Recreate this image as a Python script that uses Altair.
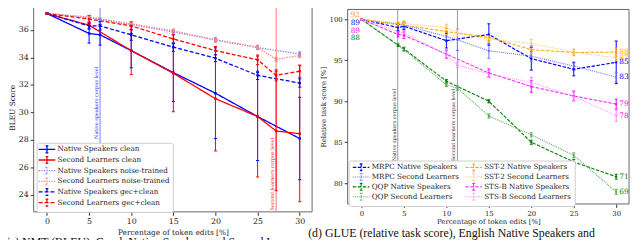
import altair as alt
import pandas as pd

W, H = 632, 232
FONT = "DejaVu Serif"

# ---------------- panel (a): NMT (BLEU) ----------------
left_series = ["Native Speakers clean", "Second Learners clean",
               "Native Speakers noise-trained", "Second Learners noise-trained",
               "Native Speakers gec+clean", "Second Learners gec+clean"]
left_colors = ["#0000ff", "#ff0000", "#7f7fff", "#ff7f7f", "#0000ff", "#ff0000"]
left_dashes = [[1, 0], [1, 0], [1.3, 1.3], [1.3, 1.3], [4, 2], [4, 2]]
left_widths = [1.3, 1.3, 1.0, 1.0, 1.2, 1.2]

x_native_a = [0, 5, 6.3, 10, 15, 20, 25, 30]
x_second_a = [0, 5, 10, 15, 20, 25, 27.2, 30]

nat_clean = [37.2, 35.75, 35.65, 34.5, 32.9, 31.4, 29.7, 28.1]
nat_clean_err = [0.05, 0.7, 0.75, 1.25, 2.1, 3.3, 3.2, 3.0]
sec_clean = [37.2, 36.35, 34.5, 32.85, 31.0, 29.7, 28.65, 28.45]
sec_clean_err = [0.05, 0.3, 1.75, 2.8, 3.8, 4.4, 4.35, 4.95]
nat_noise = [37.2, 36.9, 36.75, 36.4, 35.85, 35.3, 34.72, 34.26]
nat_noise_err = [0.05, 0.12, 0.12, 0.12, 0.15, 0.15, 0.15, 0.15]
sec_noise = [37.2, 36.95, 36.45, 35.95, 35.26, 34.74, 33.86, 34.14]
sec_noise_err = [0.05, 0.12, 0.12, 0.12, 0.15, 0.15, 0.15, 0.15]
nat_gec = [37.2, 36.3, 36.3, 35.65, 34.75, 33.95, 32.7, 32.14]
nat_gec_err = [0.05, 0.2, 0.3, 0.4, 0.3, 0.25, 0.3, 0.3]
sec_gec = [37.2, 36.8, 36.3, 35.35, 34.5, 33.83, 32.7, 33.0]
sec_gec_err = [0.05, 0.25, 0.3, 0.3, 0.3, 0.35, 0.4, 0.45]

left_values = [nat_clean, sec_clean, nat_noise, sec_noise, nat_gec, sec_gec]
left_errors = [nat_clean_err, sec_clean_err, nat_noise_err, sec_noise_err, nat_gec_err, sec_gec_err]
left_xs = [x_native_a, x_second_a, x_native_a, x_second_a, x_native_a, x_second_a]

corpus_a_x = [6.3, 27.2]
corpus_a_mid = [30.7, 25.5]
corpus_a_text = ["Native speakers corpus level", "Second learners corpus level"]
corpus_a_color = ["#8080ff", "#ff7070"]
corpus_a_textcolor = ["#3030ff", "#ff2020"]

# ---------------- panel (d): GLUE ----------------
right_series = ["MRPC Native Speakers", "MRPC Second Learners",
                "QQP Native Speakers", "QQP Second Learners",
                "SST-2 Native Speakers", "SST-2 Second Learners",
                "STS-B Native Speakers", "STS-B Second Learners"]
right_colors = ["#0000ff", "#7070ff", "#008000", "#55aa55",
                "#ffa500", "#ffc45a", "#ff00ff", "#ff80ff"]
right_dashes = [[3.5, 1.5], [1, 1], [3.5, 1.5], [1, 1],
                [3.5, 1.5], [1, 1], [3.5, 1.5], [1, 1]]
right_widths = [1.2, 0.9, 1.2, 0.9, 1.2, 0.9, 1.2, 0.9]

x_native_d = [0, 4.3, 5, 10, 15, 20, 25, 30]
x_second_d = [0, 5, 10, 11.3, 15, 20, 25, 30]

mrpc_nat = [100, 99.0, 99.15, 97.4, 98.15, 95.2, 93.9, 94.75]
mrpc_nat_err = [0.05, 0.4, 0.4, 0.9, 1.3, 1.4, 0.8, 2.6]
mrpc_sec = [100, 99.3, 97.9, 97.5, 96.15, 95.5, 94.3, 92.95]
mrpc_sec_err = [0.05, 0.4, 0.6, 1.3, 0.9, 0.6, 0.5, 0.6]
qqp_nat = [100, 96.85, 96.4, 92.45, 90.0, 85.0, 82.6, 80.8]
qqp_nat_err = [0.05, 0.15, 0.2, 0.2, 0.2, 0.25, 0.3, 0.3]
qqp_sec = [100, 96.3, 92.0, 91.6, 88.2, 85.9, 83.4, 78.95]
qqp_sec_err = [0.05, 0.2, 0.2, 0.25, 0.25, 0.25, 0.3, 0.3]
sst_nat = [100, 99.35, 99.3, 98.5, 97.8, 96.3, 95.95, 96.0]
sst_nat_err = [0.05, 0.3, 0.3, 0.4, 0.4, 0.5, 0.4, 0.5]
sst_sec = [100, 99.5, 99.0, 98.35, 97.6, 97.05, 96.0, 95.3]
sst_sec_err = [0.05, 0.3, 0.4, 0.4, 0.4, 0.5, 0.3, 0.4]
stsb_nat = [100, 98.15, 98.05, 95.75, 93.45, 91.8, 90.65, 89.65]
stsb_nat_err = [0.05, 0.3, 0.4, 0.5, 0.5, 0.7, 0.6, 0.6]
stsb_sec = [100, 98.3, 95.7, 94.4, 93.35, 92.3, 90.6, 88.25]
stsb_sec_err = [0.05, 0.3, 0.4, 0.3, 0.4, 0.6, 0.5, 0.7]

right_values = [mrpc_nat, mrpc_sec, qqp_nat, qqp_sec, sst_nat, sst_sec, stsb_nat, stsb_sec]
right_errors = [mrpc_nat_err, mrpc_sec_err, qqp_nat_err, qqp_sec_err,
                sst_nat_err, sst_sec_err, stsb_nat_err, stsb_sec_err]
right_xs = [x_native_d, x_second_d, x_native_d, x_second_d,
            x_native_d, x_second_d, x_native_d, x_second_d]

# absolute task scores written at the start and the end of the curves
start_labels = ["92", "89", "89", "88"]
start_label_series = ["SST-2 Native Speakers", "MRPC Native Speakers",
                      "STS-B Native Speakers", "QQP Native Speakers"]
start_label_y = [100.5, 99.55, 98.62, 97.7]
end_labels = ["88", "87", "85", "83", "79", "78", "71", "69"]
end_label_series = ["SST-2 Native Speakers", "SST-2 Second Learners",
                    "MRPC Native Speakers", "MRPC Second Learners",
                    "STS-B Native Speakers", "STS-B Second Learners",
                    "QQP Native Speakers", "QQP Second Learners"]

corpus_d_x = [4.27, 11.3]
corpus_d_mid = [87.1, 87.1]
corpus_d_text = ["Native speakers corpus level", "Second learners corpus level"]

caption_a = "(a) NMT (BLEU), Czech Native Speakers and Second Learners"
caption_d = "(d) GLUE (relative task score), English Native Speakers and"


def long_frame(names, xs, ys, errs):
    rows = []
    for n, xx, yy, ee in zip(names, xs, ys, errs):
        for a, b, e in zip(xx, yy, ee):
            rows.append({"series": n, "x": a, "y": b, "ymin": b - e, "ymax": b + e})
    return pd.DataFrame(rows)


df_a = long_frame(left_series, left_xs, left_values, left_errors)
df_d = long_frame(right_series, right_xs, right_values, right_errors)
caps_a = pd.concat([df_a.assign(yc=df_a["ymin"]), df_a.assign(yc=df_a["ymax"])])
caps_d = pd.concat([df_d.assign(yc=df_d["ymin"]), df_d.assign(yc=df_d["ymax"])])

SYMBOL = "M-3.36,0H3.36M0,-1.4V1.4M-0.56,-1.4H0.56M-0.56,1.4H0.56"

# ---------- panel (a) geometry ----------
A_LEFT, A_RIGHT, A_TOP, A_BOTTOM = 26, 308, -7, 205
xs_a = alt.Scale(domain=[-1.58, 31.47], range=[A_LEFT, A_RIGHT], nice=False, zero=False)
ys_a = alt.Scale(domain=[22.76, 38.0], range=[A_BOTTOM, A_TOP], nice=False, zero=False)
ax_xa = alt.Axis(orient="bottom", offset=A_BOTTOM - H, values=[0, 5, 10, 15, 20, 25, 30],
                 title="Percentage of token edits [%]", grid=False, domain=False,
                 tickSize=3.5, tickColor="#333", labelFont=FONT, labelFontSize=8,
                 labelColor="#222", titleFont=FONT, titleFontSize=7.5,
                 titleFontWeight="normal", titleColor="#222", titlePadding=3, labelPadding=2)
ax_ya = alt.Axis(orient="left", offset=-A_LEFT, values=[24, 26, 28, 30, 32, 34, 36],
                 title="BLEU Score", grid=False, domain=False, tickSize=3.5,
                 tickColor="#333", labelFont=FONT, labelFontSize=8, labelColor="#222",
                 titleFont=FONT, titleFontSize=7.5, titleFontWeight="normal",
                 titleColor="#222", titlePadding=2, labelPadding=2)
col_a = alt.Scale(domain=left_series, range=left_colors)
dash_a = alt.Scale(domain=left_series, range=left_dashes)
wid_a = alt.Scale(domain=left_series, range=left_widths)
leg_a = alt.Legend(title=None, orient="none", legendX=29, legendY=135,
                   symbolType=SYMBOL, symbolSize=25, symbolStrokeWidth=1.1,
                   labelFont=FONT, labelFontSize=7.3, labelColor="#222", rowPadding=-2.2,
                   padding=3, fillColor="white", strokeColor="#cccccc",
                   cornerRadius=2, symbolOffset=3.8, labelOffset=7, labelLimit=0)


def XA(f):
    return alt.X(f + ":Q", scale=xs_a, axis=ax_xa)


def YA(f):
    return alt.Y(f + ":Q", scale=ys_a, axis=ax_ya)


def CA():
    return alt.Color("series:N", scale=col_a, legend=leg_a)


base_a = alt.Chart(df_a)
lines_a = base_a.mark_line(strokeCap="butt").encode(
    x=XA("x"), y=YA("y"), color=CA(),
    strokeDash=alt.StrokeDash("series:N", scale=dash_a, legend=leg_a),
    strokeWidth=alt.StrokeWidth("series:N", scale=wid_a, legend=None),
    detail="series:N")
bars_a = base_a.mark_rule(strokeWidth=1).encode(
    x=XA("x"), y=YA("ymin"), y2="ymax", color=CA())
capm_a = alt.Chart(caps_a).mark_point(shape="M-1,0H1", size=10, filled=False,
                                     strokeWidth=1, opacity=1).encode(
    x=XA("x"), y=YA("yc"), color=CA())
pts_a = base_a.mark_point(shape="square", filled=True, size=6, opacity=1).encode(
    x=XA("x"), y=YA("y"), color=CA())

frame_a_df = pd.DataFrame({"x0": [-1.58], "x1": [31.47], "y0": [22.76], "y1": [38.0]})
frame_a = alt.Chart(frame_a_df).mark_rect(fillOpacity=0, stroke="#555", strokeWidth=0.9).encode(
    x=XA("x0"), x2="x1", y=YA("y0"), y2="y1")

corp_layers_a = []
for cx, cm, ct, cc, tc in zip(corpus_a_x, corpus_a_mid, corpus_a_text, corpus_a_color, corpus_a_textcolor):
    d = pd.DataFrame({"x": [cx], "y0": [22.76], "y1": [38.0], "ym": [cm], "t": [ct]})
    corp_layers_a.append(alt.Chart(d).mark_rule(color=cc, strokeWidth=1).encode(
        x=XA("x"), y=YA("y0"), y2="y1"))
    corp_layers_a.append(alt.Chart(d).mark_text(angle=270, baseline="bottom", align="center",
                                                dy=-1, font=FONT, fontSize=5, color=tc).encode(
        x=XA("x"), y=YA("ym"), text="t:N"))

panel_a = alt.layer(frame_a, *corp_layers_a, lines_a, bars_a, capm_a, pts_a)

# ---------- panel (d) geometry ----------
D_LEFT, D_RIGHT, D_TOP, D_BOTTOM = 344, 629, 0, 197
xs_d = alt.Scale(domain=[-1.63, 31.51], range=[D_LEFT, D_RIGHT], nice=False, zero=False)
ys_d = alt.Scale(domain=[77.47, 101.2], range=[D_BOTTOM, D_TOP], nice=False, zero=False)
ax_xd = alt.Axis(orient="bottom", offset=D_BOTTOM - H, values=[0, 5, 10, 15, 20, 25, 30],
                 title="Percentage of token edits [%]", grid=False, domain=False,
                 tickSize=3.5, tickColor="#333", labelFont=FONT, labelFontSize=7,
                 labelColor="#222", titleFont=FONT, titleFontSize=7,
                 titleFontWeight="normal", titleColor="#222", titlePadding=1.5, labelPadding=2)
ax_yd = alt.Axis(orient="left", offset=-D_LEFT, values=[80, 85, 90, 95, 100],
                 title="Relative task score [%]", grid=False, domain=False, tickSize=3.5,
                 tickColor="#333", labelFont=FONT, labelFontSize=7, labelColor="#222",
                 titleFont=FONT, titleFontSize=7, titleFontWeight="normal",
                 titleColor="#222", titlePadding=3, labelPadding=2)
col_d = alt.Scale(domain=right_series, range=right_colors)
dash_d = alt.Scale(domain=right_series, range=right_dashes)
wid_d = alt.Scale(domain=right_series, range=right_widths)
leg_d = alt.Legend(title=None, orient="none", legendX=345, legendY=153, columns=2,
                   symbolType=SYMBOL, symbolSize=25, symbolStrokeWidth=1.1,
                   labelFont=FONT, labelFontSize=7.3, labelColor="#222", rowPadding=-3.8,
                   columnPadding=4, padding=3, fillColor="white", strokeColor="#cccccc",
                   cornerRadius=2, symbolOffset=6, labelOffset=7, labelLimit=0)


def XD(f):
    return alt.X(f + ":Q", scale=xs_d, axis=ax_xd)


def YD(f):
    return alt.Y(f + ":Q", scale=ys_d, axis=ax_yd)


def CD():
    return alt.Color("series:N", scale=col_d, legend=leg_d)


base_d = alt.Chart(df_d)
lines_d = base_d.mark_line(strokeCap="butt").encode(
    x=XD("x"), y=YD("y"), color=CD(),
    strokeDash=alt.StrokeDash("series:N", scale=dash_d, legend=leg_d),
    strokeWidth=alt.StrokeWidth("series:N", scale=wid_d, legend=None),
    detail="series:N")
bars_d = base_d.mark_rule(strokeWidth=1).encode(
    x=XD("x"), y=YD("ymin"), y2="ymax", color=CD())
capm_d = alt.Chart(caps_d).mark_point(shape="M-1,0H1", size=9, filled=False,
                                     strokeWidth=1, opacity=1).encode(
    x=XD("x"), y=YD("yc"), color=CD())
pts_d = base_d.mark_point(shape="square", filled=True, size=4, opacity=1).encode(
    x=XD("x"), y=YD("y"), color=CD())

frame_d_df = pd.DataFrame({"x0": [-1.63], "x1": [31.51], "y0": [77.47], "y1": [101.2]})
frame_d = alt.Chart(frame_d_df).mark_rect(fillOpacity=0, stroke="#555", strokeWidth=0.9).encode(
    x=XD("x0"), x2="x1", y=YD("y0"), y2="y1")

corp_d_df = pd.DataFrame({"x": corpus_d_x, "y0": [77.47] * 2, "y1": [101.2] * 2,
                          "ym": corpus_d_mid, "t": corpus_d_text})
corp_rule_d = alt.Chart(corp_d_df).mark_rule(color="#999999", strokeWidth=1).encode(
    x=XD("x"), y=YD("y0"), y2="y1")
corp_text_d = alt.Chart(corp_d_df).mark_text(angle=270, baseline="bottom", align="center",
                                             dy=-1, font=FONT, fontSize=5, color="#333").encode(
    x=XD("x"), y=YD("ym"), text="t:N")

start_df = pd.DataFrame({"series": start_label_series, "x": [0] * 4,
                         "y": start_label_y, "t": start_labels})
end_df = pd.DataFrame({"series": end_label_series,
                       "x": [30] * 8,
                       "y": [right_values[right_series.index(s)][-1] for s in end_label_series],
                       "t": end_labels})
end_df["series_c"] = [s.replace("Second Learners", "Native Speakers") for s in end_df["series"]]
start_txt = alt.Chart(start_df).mark_text(align="left", baseline="middle", dx=-11,
                                          font=FONT, fontSize=7.4).encode(
    x=XD("x"), y=YD("y"), text="t:N", color=CD())
end_txt = alt.Chart(end_df).mark_text(align="left", baseline="middle", dx=3,
                                      font=FONT, fontSize=7.5).encode(
    x=XD("x"), y=YD("y"), text="t:N",
    color=alt.Color("series_c:N", scale=col_d, legend=leg_d))

panel_d = alt.layer(frame_d, corp_rule_d, corp_text_d, lines_d, bars_d, capm_d, pts_d,
                    start_txt, end_txt)

# ---------- captions ----------
cap_a = alt.Chart(pd.DataFrame({"t": [caption_a]})).mark_text(
    align="left", baseline="alphabetic", font="Liberation Serif", fontSize=12,
    color="#111").encode(x=alt.value(-2), y=alt.value(240), text="t:N")
cap_d = alt.Chart(pd.DataFrame({"t": [caption_d]})).mark_text(
    align="left", baseline="alphabetic", font="Liberation Serif", fontSize=12,
    color="#111").encode(x=alt.value(304), y=alt.value(230.5), text="t:N")

chart = alt.layer(panel_a, panel_d, cap_a, cap_d).resolve_scale(
    x="independent", y="independent", color="independent",
    strokeDash="independent", strokeWidth="independent"
).resolve_legend(color="independent", strokeDash="independent").properties(
    width=W, height=H, autosize=alt.AutoSizeParams(type="none"), padding=0,
    background="white"
).configure_view(stroke=None)

chart.save("out.html", embed_options={"renderer": "svg", "actions": False})
